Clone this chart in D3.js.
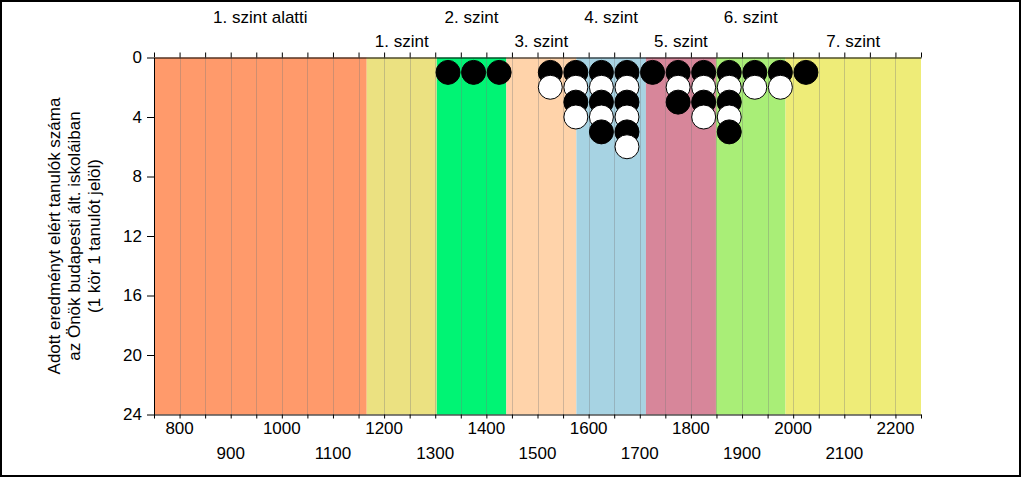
<!DOCTYPE html>
<html>
<head>
<meta charset="utf-8">
<script src="https://cdn.jsdelivr.net/npm/d3@7"></script>
<style>
  html, body { margin: 0; padding: 0; background: #fff; }
  svg { display: block; font-family: "Liberation Sans", Arial, sans-serif; }
</style>
</head>
<body>
<svg id="chart" width="1024" height="478"></svg>
<script>
// ---- data ----
const levelNames = ["1. szint alatti", "1. szint", "2. szint", "3. szint", "4. szint", "5. szint", "6. szint", "7. szint"];
const levelBounds = [750, 1166, 1303, 1439, 1576, 1712, 1849, 1985, 2250];
const binCenters = [1325, 1375, 1425, 1475, 1525, 1575, 1625, 1675, 1725, 1775, 1825, 1875, 1925, 1975, 2025];
const binCounts  = [1, 1, 1, 0, 2, 4, 5, 6, 1, 3, 4, 5, 2, 2, 1];
const xTickLabels = [800, 900, 1000, 1100, 1200, 1300, 1400, 1500, 1600, 1700, 1800, 1900, 2000, 2100, 2200];
const yTickLabels = [0, 4, 8, 12, 16, 20, 24];
const yTitleLines = ["Adott eredményt elért tanulók száma", "az Önök budapesti ált. iskoláiban", "(1 kör 1 tanulót jelöl)"];

// ---- style ----
const levelColors = ["#FF9A6B", "#EBE181", "#00F474", "#FFD3AA", "#A7D3E3", "#D7869A", "#A9EE77", "#EEEC78"];

const svg = d3.select("#chart");
const L = 154, R = 921, T = 57.5, B = 414.5;
const x = d3.scaleLinear().domain([750, 2250]).range([L, R]);
const y = d3.scaleLinear().domain([0, 24]).range([T, B]);

// outer frame
svg.append("rect").attr("x", 1).attr("y", 1).attr("width", 1019).attr("height", 475)
  .attr("fill", "#fff").attr("stroke", "#000").attr("stroke-width", 2);

// level bands
const bands = levelNames.map((n, i) => ({ name: n, lo: levelBounds[i], hi: levelBounds[i + 1], color: levelColors[i] }));
svg.append("g").selectAll("rect").data(bands).join("rect")
  .attr("x", d => x(d.lo)).attr("width", d => x(d.hi) - x(d.lo))
  .attr("y", T).attr("height", B - T)
  .attr("fill", d => d.color);

// vertical grid lines
const gridVals = d3.range(800, 2250, 50);
svg.append("g").selectAll("line").data(gridVals).join("line")
  .attr("x1", d => Math.round(x(d)) + 0.5).attr("x2", d => Math.round(x(d)) + 0.5)
  .attr("y1", T).attr("y2", B)
  .attr("stroke", "rgba(120,120,120,0.35)").attr("stroke-width", 1);

// level labels (two staggered rows)
svg.append("g").selectAll("text").data(bands).join("text")
  .attr("x", d => x((d.lo + d.hi) / 2))
  .attr("y", (d, i) => i % 2 === 0 ? 22.5 : 46.5)
  .attr("text-anchor", "middle").attr("font-size", 17).attr("fill", "#000")
  .text(d => d.name);

// axes
const minorTicks = d3.range(750, 2251, 50);
const topAxis = d3.axisTop(x).tickValues(minorTicks).tickFormat("").tickSizeInner(5).tickSizeOuter(0);
svg.append("g").attr("transform", `translate(0,${T})`).call(topAxis)
  .call(g => g.selectAll("line,path").attr("stroke", "#000"));

const bottomAxis = d3.axisBottom(x).tickValues(minorTicks).tickFormat("").tickSizeInner(4).tickSizeOuter(0);
svg.append("g").attr("transform", `translate(0,${B})`).call(bottomAxis)
  .call(g => g.selectAll("line,path").attr("stroke", "#000"));

// bottom tick labels, staggered
svg.append("g").selectAll("text").data(xTickLabels).join("text")
  .attr("x", d => x(d))
  .attr("y", (d, i) => i % 2 === 0 ? 433.5 : 458.5)
  .attr("text-anchor", "middle").attr("font-size", 17).attr("fill", "#000")
  .text(d => d);

const leftAxis = d3.axisLeft(y).tickValues(yTickLabels).tickSizeInner(7).tickSizeOuter(0).tickPadding(5);
svg.append("g").attr("transform", `translate(${L},0)`).call(leftAxis)
  .call(g => g.selectAll("line,path").attr("stroke", "#000"))
  .call(g => g.selectAll("text").attr("font-size", 17).attr("font-family", "Liberation Sans, Arial, sans-serif").attr("fill", "#000"));

// y title
const yt = svg.append("text")
  .attr("transform", `translate(0,${(T + B) / 2}) rotate(-90)`)
  .attr("text-anchor", "middle").attr("font-size", 17).attr("fill", "#000");
yTitleLines.forEach((s, i) => {
  yt.append("tspan").attr("x", 0).attr("y", 60 + i * 20).text(s);
});

// circles
const dots = [];
binCenters.forEach((c, i) => {
  for (let k = 1; k <= binCounts[i]; k++) dots.push({ v: c, k });
});
svg.append("g").selectAll("circle").data(dots).join("circle")
  .attr("cx", d => x(d.v)).attr("cy", d => y(d.k)).attr("r", 12)
  .attr("fill", d => d.k % 2 === 1 ? "#000" : "#fff")
  .attr("stroke", "#000").attr("stroke-width", 1);
</script>
</body>
</html>
